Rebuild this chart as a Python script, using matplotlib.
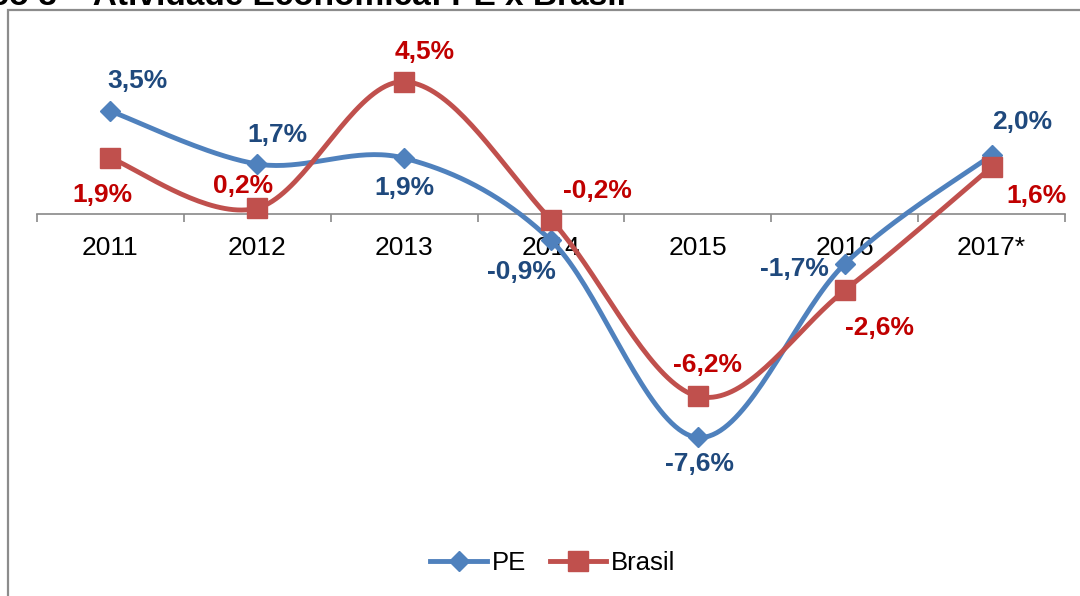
import numpy as np
import matplotlib
matplotlib.use("Agg")
import matplotlib.pyplot as plt
from matplotlib.patches import Rectangle
from matplotlib.lines import Line2D

plt.rcParams['font.family'] = ['Liberation Sans', 'DejaVu Sans']

# dados
anos = ["2011", "2012", "2013", "2014", "2015", "2016", "2017*"]
pe = [3.5, 1.7, 1.9, -0.9, -7.6, -1.7, 2.0]
brasil = [1.9, 0.2, 4.5, -0.2, -6.2, -2.6, 1.6]
# deslocamento dos rótulos (pixels)
pe_off = [(27, 30), (20, 29), (0, -30), (-30, -32), (2, -27), (-50, -5), (31, 33)]
br_off = [(-8, -37), (-14, 22), (21, 30), (46, 29), (10, 31), (35, -38), (45, -29)]

cor_pe, cor_br = "#4F81BD", "#C0504D"
txt_pe, txt_br = "#1F497D", "#C00000"

W, H = 1080, 596
fig = plt.figure(figsize=(W / 100, H / 100), dpi=100)

# area do grafico: x de 37 a 1065 px, y de 30 a 520 px (zero em 214)
py0, ppu = 214, 29.4
top, bot = 30, 520
ax = fig.add_axes([37 / W, 1 - bot / H, (1065 - 37) / W, (bot - top) / H])
ax.set_xlim(-0.5, 6.5)
ax.set_ylim(-(bot - py0) / ppu, (py0 - top) / ppu)


def suave(y, sx=147.0, sy=ppu, n=40):
    # curva suavizada tipo Excel (bezier / catmull-rom)
    x = np.arange(len(y)) * sx
    yy = np.array(y) * sy
    P = np.column_stack([x, yy])
    P = np.vstack([P[0], P, P[-1]])
    out = []
    t = np.linspace(0, 1, n)[:, None]
    for i in range(1, len(P) - 2):
        p0, p1, p2, p3 = P[i - 1], P[i], P[i + 1], P[i + 2]
        c1 = p1 + (p2 - p0) / 6
        c2 = p2 - (p3 - p1) / 6
        seg = (1 - t) ** 3 * p1 + 3 * (1 - t) ** 2 * t * c1 + 3 * (1 - t) * t ** 2 * c2 + t ** 3 * p2
        out.append(seg)
    out = np.vstack(out)
    return out[:, 0] / sx, out[:, 1] / sy


xs = np.arange(len(anos))
for vals, cor, mk, ms, z in [(pe, cor_pe, "D", 10, 3), (brasil, cor_br, "s", 14, 4)]:
    cx, cy = suave(vals)
    ax.plot(cx, cy, color=cor, lw=3.5, zorder=z, solid_capstyle="round")
    ax.plot(xs, vals, ls="none", marker=mk, ms=ms, color=cor, zorder=z + 0.5)

for vals, offs, cor in [(pe, pe_off, txt_pe), (brasil, br_off, txt_br)]:
    for x, v, (dx, dy) in zip(xs, vals, offs):
        ax.annotate(f"{v:.1f}%".replace(".", ","), (x, v), xytext=(dx, dy),
                    textcoords="offset pixels", ha="center", va="center",
                    fontsize=19, fontweight="bold", color=cor, zorder=6)

# eixo
for s in ["top", "right", "left"]:
    ax.spines[s].set_visible(False)
ax.spines["bottom"].set_position(("data", 0))
ax.spines["bottom"].set_color("#898989")
ax.spines["bottom"].set_linewidth(1.2)
ax.set_axisbelow(True)
ax.set_yticks([])
ax.set_xticks(xs)
ax.set_xticklabels(anos, fontsize=19)
ax.set_xticks(np.arange(-0.5, 7, 1), minor=True)
ax.tick_params(axis="x", which="major", length=0, pad=16)
ax.tick_params(axis="x", which="minor", length=6, width=1.2, color="#898989")
ax.patch.set_alpha(0)

# legenda
h = [Line2D([], [], color=cor_pe, lw=3.5, marker="D", ms=10),
     Line2D([], [], color=cor_br, lw=3.5, marker="s", ms=14)]
fig.legend(h, ["PE", "Brasil"], loc="center", bbox_to_anchor=(553 / W, 1 - 563 / H),
           ncol=2, frameon=False, fontsize=18.5, handlelength=2.2,
           handletextpad=0.2, columnspacing=0.9)

# moldura e titulo cortado
fig.add_artist(Rectangle((7.5 / W, -0.2), 1.2, 1.2 - 9.5 / H, transform=fig.transFigure,
                         fill=False, ec="#8c8c8c", lw=1.6))
fig.text(-88 / W, 1 - 5 / H, "Gráfico 3 – Atividade Econômica: PE x Brasil",
         fontsize=24, fontweight="bold", va="baseline", ha="left")

fig.savefig("out.png", dpi=100)
